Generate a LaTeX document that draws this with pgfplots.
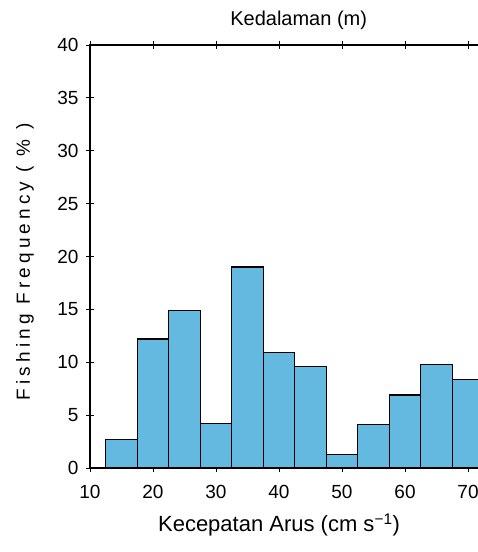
\documentclass[border=0pt]{standalone}
\usepackage{pgfplots}
\pgfplotsset{compat=1.18}
\usepackage{fontspec}
\setmainfont{Liberation Sans}
\newfontfamily\ylabfont[LetterSpace=22]{Liberation Sans}
\definecolor{barblue}{RGB}{100,185,225}

\begin{document}
\begin{tikzpicture}[x=1pt,y=1pt]
\clip (-90,-84) rectangle (388,468);
\begin{axis}[
  at={(0,0)}, anchor=south west,
  scale only axis, width=393.75pt, height=423pt,
  clip=false,
  xmin=10, xmax=72.5, ymin=0, ymax=40,
  xtick={10,20,...,70}, ytick={0,5,...,40},
  tick align=center, major tick length=8pt,
  tick style={line width=0.9pt, black},
  axis line style={line width=1.2pt},
  /pgf/number format/assume math mode=true,
  ticklabel style={font=\fontsize{19}{19}\selectfont},
  xticklabel style={yshift=-10pt},
  yticklabel style={xshift=-4pt},
  xlabel={Kecepatan Arus (cm s\textsuperscript{−1})},
  xlabel style={font=\fontsize{22}{22}\selectfont, at={(axis description cs:0.48,0)}, anchor=center, yshift=-57pt},
  ylabel={Fishing Frequency ( \% )},
  ylabel style={font=\ylabfont\fontsize{19}{19}\selectfont, at={(axis description cs:0,0.487)}, anchor=center, yshift=65pt},
]
\addplot[ybar, bar width=5, bar shift=0pt, fill=barblue, draw=black, line width=1.2pt]
  coordinates {(15,2.7) (20,12.2) (25,14.9) (30,4.2) (35,19.0) (40,10.9) (45,9.6) (50,1.3) (55,4.1) (60,6.9) (65,9.8) (70,8.4)};
\node[font=\fontsize{20}{20}\selectfont, anchor=base, inner sep=0pt] at (axis description cs:0.53,1.045) {Kedalaman (m)};
\end{axis}
\end{tikzpicture}
\end{document}
